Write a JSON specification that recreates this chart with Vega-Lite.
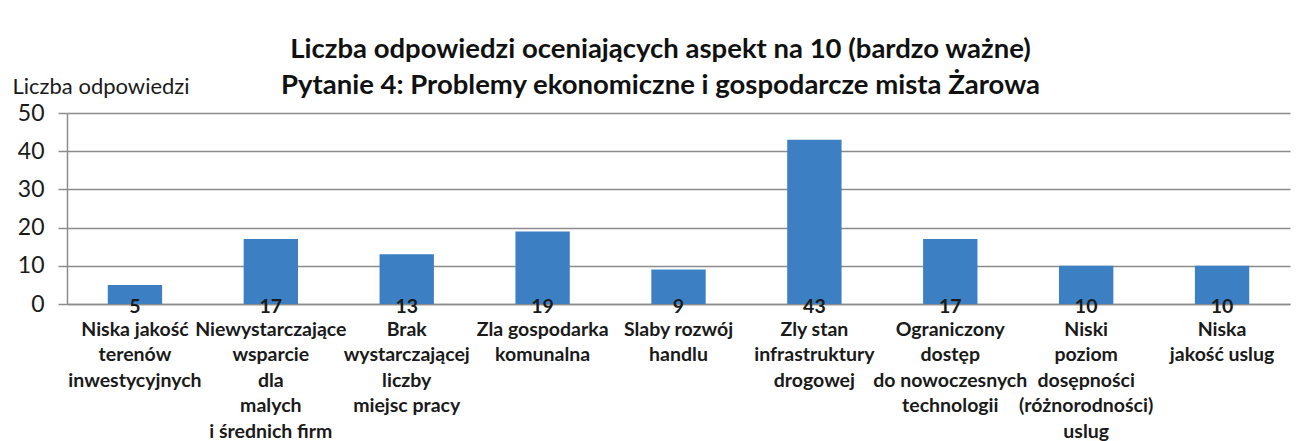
{
  "$schema": "https://vega.github.io/schema/vega-lite/v6.json",
  "width": 1223,
  "height": 191,
  "autosize": "none",
  "padding": {"left": 67, "top": 113, "right": 16, "bottom": 137},
  "background": "white",
  "title": {
    "text": ["Liczba odpowiedzi oceniających aspekt na 10 (bardzo ważne)", "Pytanie 4: Problemy ekonomiczne i gospodarcze mista Żarowa"],
    "font": "Lato",
    "fontSize": 27.5,
    "fontWeight": "bold",
    "lineHeight": 36,
    "anchor": "middle",
    "dx": -18,
    "offset": -24,
    "color": "#111111"
  },
  "data": {
    "values": [
      {"aspekt": "Niska jakość|terenów|inwestycyjnych", "liczba": 5},
      {"aspekt": "Niewystarczające|wsparcie|dla|malych|i średnich firm", "liczba": 17},
      {"aspekt": "Brak|wystarczającej|liczby|miejsc pracy", "liczba": 13},
      {"aspekt": "Zla gospodarka|komunalna", "liczba": 19},
      {"aspekt": "Slaby rozwój|handlu", "liczba": 9},
      {"aspekt": "Zly stan|infrastruktury|drogowej", "liczba": 43},
      {"aspekt": "Ograniczony|dostęp|do nowoczesnych|technologii", "liczba": 17},
      {"aspekt": "Niski|poziom|dosępności|(różnorodności)|uslug", "liczba": 10},
      {"aspekt": "Niska|jakość uslug", "liczba": 10}
    ]
  },
  "config": {
    "view": {"stroke": null},
    "font": "Lato",
    "axisY": {
      "labelOverlap": false,
      "titleAngle": 0,
      "titleAlign": "left",
      "titleBaseline": "alphabetic",
      "titleX": -55,
      "titleY": -20,
      "titleFontSize": 22,
      "titleFontWeight": "normal",
      "titleFont": "Lato",
      "titleColor": "#1a1a1a",
      "labelFontSize": 23,
      "labelFont": "Lato",
      "labelColor": "#1a1a1a",
      "labelPadding": 14,
      "tickSize": 9,
      "tickColor": "#8c8c8c",
      "tickWidth": 1.5,
      "domainColor": "#8c8c8c",
      "domainWidth": 1.5,
      "grid": true,
      "gridColor": "#8c8c8c",
      "gridWidth": 1.5
    }
  },
  "layer": [
    {
      "mark": {"type": "bar", "color": "#3C80C3", "width": {"band": 0.4}},
      "encoding": {
        "x": {
          "field": "aspekt", "type": "nominal", "sort": null,
          "scale": {"paddingInner": 0, "paddingOuter": 0},
          "axis": {
            "title": null,
            "labelExpr": "split(datum.label, '|')",
            "labelAngle": 0,
            "labelFontSize": 19.5,
            "labelFont": "Lato",
            "labelFontWeight": "bold",
            "labelLineHeight": 25.5,
            "labelPadding": 16,
            "labelColor": "#1a1a1a",
            "labelLimit": 220,
            "labelOverlap": false,
            "ticks": false,
            "domainColor": "#8c8c8c",
            "domainWidth": 1.5
          }
        },
        "y": {
          "field": "liczba", "type": "quantitative",
          "scale": {"domain": [0, 50]},
          "axis": {"values": [0, 10, 20, 30, 40, 50], "title": "Liczba odpowiedzi"}
        }
      }
    },
    {
      "mark": {"type": "text", "baseline": "middle", "dy": 3, "fontSize": 19.5, "font": "Lato", "fontWeight": "bold", "color": "#1a1a1a"},
      "encoding": {
        "x": {"field": "aspekt", "type": "nominal", "sort": null},
        "y": {"datum": 0, "type": "quantitative", "axis": {"values": [0, 10, 20, 30, 40, 50], "title": "Liczba odpowiedzi"}},
        "text": {"field": "liczba", "type": "quantitative"}
      }
    }
  ]
}
